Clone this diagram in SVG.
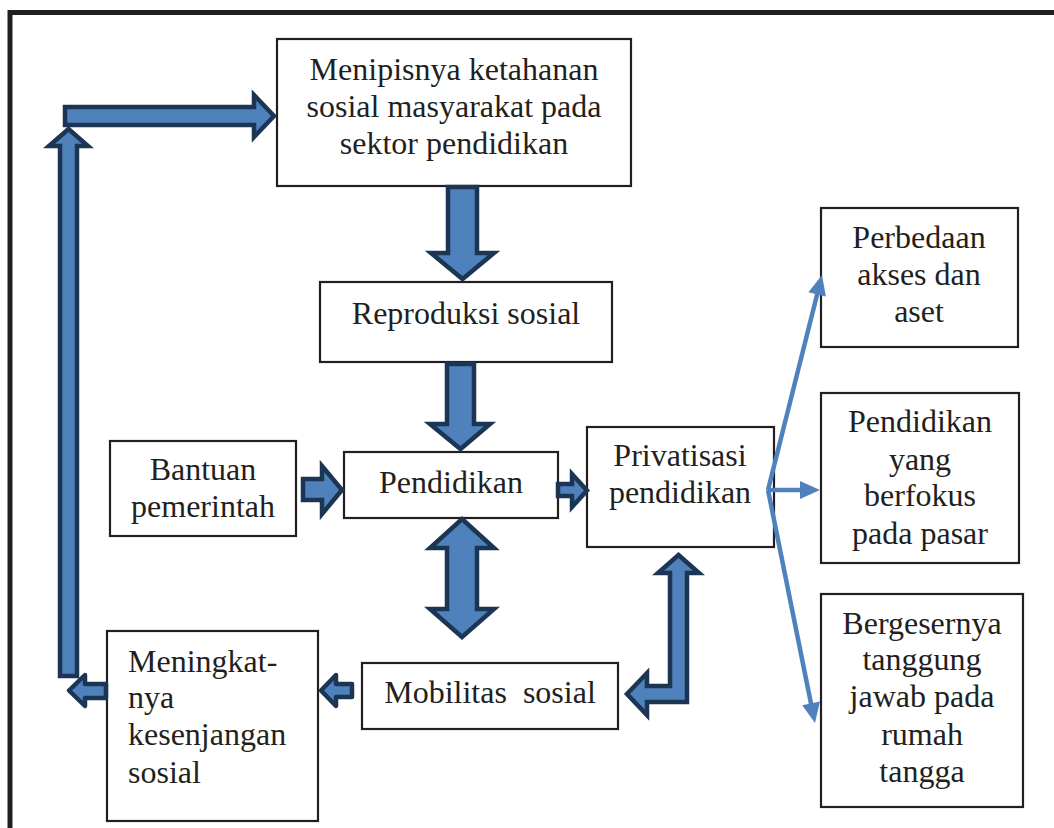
<svg xmlns="http://www.w3.org/2000/svg" width="1054" height="828" viewBox="0 0 1054 828">
<style>
.box{fill:#fff;stroke:#231f20;stroke-width:2.2}
text{font-size:32px;fill:#231f20}
.c{text-anchor:middle}
.blk{fill:#4f81bd;stroke:#1c3553;stroke-width:4.5;stroke-linejoin:miter}
.blkr{fill:#4f81bd;stroke:#1c3553;stroke-width:4.5;stroke-linejoin:round}
.thin{stroke:#4f81bd;stroke-width:4.5;fill:none}
.head{fill:#4f81bd}
</style>
<rect width="1054" height="828" fill="#fff"/>
<rect x="10" y="12.5" width="1100" height="900" fill="none" stroke="#231f20" stroke-width="5"/>
<g font-family="Liberation Serif, serif">
<g id="n-menipisnya">
<rect class="box" x="277" y="39" width="354" height="147"/>
<text class="c" x="454" y="80">Menipisnya ketahanan</text>
<text class="c" x="454" y="117">sosial masyarakat pada</text>
<text class="c" x="454" y="154">sektor pendidikan</text>
</g>
<g id="n-reproduksi">
<rect class="box" x="320" y="282" width="292" height="80"/>
<text class="c" x="466" y="324">Reproduksi sosial</text>
</g>
<g id="n-bantuan">
<rect class="box" x="110" y="441" width="186" height="95"/>
<text class="c" x="203" y="480">Bantuan</text>
<text class="c" x="203" y="517">pemerintah</text>
</g>
<g id="n-pendidikan">
<rect class="box" x="344" y="452" width="214" height="66"/>
<text class="c" x="451" y="493">Pendidikan</text>
</g>
<g id="n-privatisasi">
<rect class="box" x="587" y="427" width="187" height="120"/>
<text class="c" x="680" y="466">Privatisasi</text>
<text class="c" x="680" y="503">pendidikan</text>
</g>
<g id="n-mobilitas">
<rect class="box" x="362" y="663" width="256" height="66"/>
<text class="c" x="490" y="703" xml:space="preserve">Mobilitas  sosial</text>
</g>
<g id="n-meningkatnya">
<rect class="box" x="107" y="631" width="211" height="190"/>
<text x="128" y="672">Meningkat-</text>
<text x="128" y="708">nya</text>
<text x="128" y="745">kesenjangan</text>
<text x="128" y="783">sosial</text>
</g>
<g id="n-perbedaan">
<rect class="box" x="821" y="208" width="197" height="139"/>
<text class="c" x="919" y="248">Perbedaan</text>
<text class="c" x="919" y="285">akses dan</text>
<text class="c" x="919" y="322">aset</text>
</g>
<g id="n-pasar">
<rect class="box" x="821" y="393" width="198" height="170"/>
<text class="c" x="920" y="432">Pendidikan</text>
<text class="c" x="920" y="470">yang</text>
<text class="c" x="920" y="506">berfokus</text>
<text class="c" x="920" y="544">pada pasar</text>
</g>
<g id="n-bergesernya">
<rect class="box" x="821" y="594" width="202" height="213"/>
<text class="c" x="922" y="634">Bergesernya</text>
<text class="c" x="922" y="670">tanggung</text>
<text class="c" x="922" y="707">jawab pada</text>
<text class="c" x="922" y="745">rumah</text>
<text class="c" x="922" y="782">tangga</text>
</g>
</g>
<g id="connectors">
<path class="blk" d="M60,676 L60,146 L49,146 L68.5,129 L88,146 L77,146 L77,676 Z"/>
<path class="blk" d="M65,107 L254,107 L254,95 L274,116 L254,137 L254,125 L65,125 Z"/>
<path class="blk" d="M448,187 L477,187 L477,253 L494,253 L462.5,279 L431,253 L448,253 Z"/>
<path class="blk" d="M447,364 L474,364 L474,424 L490,424 L460.5,449 L430,424 L447,424 Z"/>
<path class="blk" d="M303,479 L322,479 L322,466 L342,490 L322,514 L322,500 L303,500 Z"/>
<path class="blk" d="M558,484 L572,484 L572,474 L587,490.5 L572,507 L572,496 L558,496 Z"/>
<path class="blk" d="M462,519 L494,548 L477,548 L477,609 L494,609 L462,637 L430,609 L447,609 L447,548 L430,548 Z"/>
<path class="blk" d="M678.5,555 L699,573 L687,573 L687,702 L647,702 L647,715 L627,694 L647,673 L647,686 L670,686 L670,573 L658,573 Z"/>
<path class="blkr" d="M106,684 L85,684 L85,675 L69,690.5 L85,706 L85,698 L106,698 Z"/>
<path class="blkr" d="M352,684 L336,684 L336,675 L321,690.5 L336,706 L336,697 L352,697 Z"/>
<line class="thin" x1="768" y1="490" x2="818" y2="291"/>
<polygon class="head" points="822,275 825.9,296.6 808.4,292.2"/>
<line class="thin" x1="768" y1="490" x2="803" y2="490"/>
<polygon class="head" points="820,490 800,481 800,499"/>
<line class="thin" x1="768" y1="490" x2="811.5" y2="706"/>
<polygon class="head" points="815,723 819.9,701.6 802.2,705.2"/>
</g>
</svg>
